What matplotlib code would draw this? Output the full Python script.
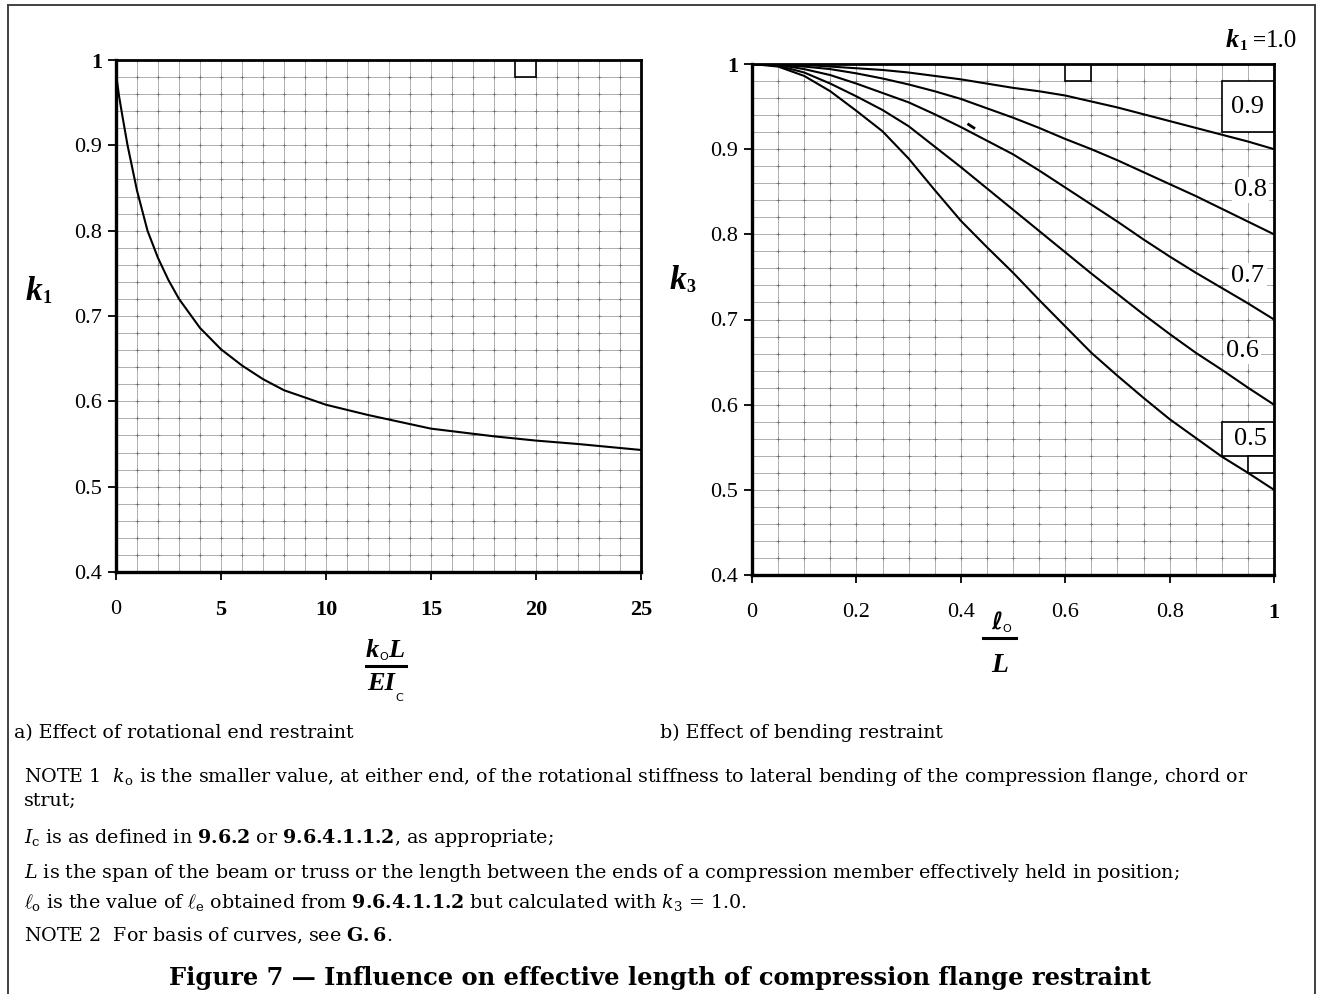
import matplotlib
matplotlib.use("Agg")
import matplotlib.pyplot as plt
from matplotlib.patches import Rectangle
from matplotlib.lines import Line2D
import numpy as np

# a) k1 against k0 L / E Ic
stiffness = [0, 0.05, 0.15, 0.3, 0.55, 1, 1.5, 2, 2.5, 3, 4, 5, 6, 7, 8, 10,
             12, 15, 18, 20, 22, 25]
k1_values = [1.0, 0.975, 0.957, 0.935, 0.9, 0.847, 0.80, 0.768, 0.742, 0.72,
             0.686, 0.661, 0.642, 0.626, 0.613, 0.596, 0.584, 0.568, 0.559,
             0.554, 0.55, 0.543]

# b) k3 against l0 / L, one curve per k1
length_ratio = [0, 0.05, 0.1, 0.15, 0.2, 0.25, 0.3, 0.35, 0.4, 0.45, 0.5,
                0.55, 0.6, 0.65, 0.7, 0.75, 0.8, 0.85, 0.9, 0.95, 1.0]
k3_k1_09 = [1.0, 1.0, 0.999, 0.997, 0.995, 0.993, 0.990, 0.986, 0.982, 0.977,
            0.972, 0.968, 0.963, 0.956, 0.949, 0.941, 0.933, 0.925, 0.917,
            0.909, 0.9]
k3_k1_08 = [1.0, 0.999, 0.997, 0.994, 0.989, 0.983, 0.976, 0.968, 0.959, 0.948,
            0.937, 0.925, 0.912, 0.9, 0.887, 0.873, 0.859, 0.845, 0.83, 0.815,
            0.8]
k3_k1_07 = [1.0, 0.999, 0.994, 0.987, 0.977, 0.966, 0.955, 0.941, 0.926, 0.91,
            0.894, 0.875, 0.855, 0.835, 0.815, 0.794, 0.774, 0.755, 0.737,
            0.719, 0.7]
k3_k1_06 = [1.0, 0.998, 0.99, 0.977, 0.962, 0.946, 0.927, 0.903, 0.879, 0.854,
            0.829, 0.804, 0.779, 0.754, 0.73, 0.706, 0.683, 0.661, 0.641,
            0.62, 0.6]
k3_k1_05 = [1.0, 0.997, 0.986, 0.968, 0.945, 0.921, 0.889, 0.852, 0.816, 0.785,
            0.755, 0.723, 0.692, 0.661, 0.634, 0.608, 0.583, 0.561, 0.539,
            0.52, 0.5]
k1_names = ["0.9", "0.8", "0.7", "0.6", "0.5"]

y_ticks = [0.4, 0.5, 0.6, 0.7, 0.8, 0.9, 1.0]
y_tick_labels = ["0.4", "0.5", "0.6", "0.7", "0.8", "0.9", "1"]
left_x_ticks = [0, 5, 10, 15, 20, 25]
left_x_labels = ["0", "5", "10", "15", "20", "25"]
right_x_ticks = [0, 0.2, 0.4, 0.6, 0.8, 1.0]
right_x_labels = ["0", "0.2", "0.4", "0.6", "0.8", "1"]

plt.rcParams["font.family"] = ["Liberation Serif", "DejaVu Serif"]
plt.rcParams["mathtext.fontset"] = "custom"
plt.rcParams["mathtext.rm"] = "DejaVu Serif"
plt.rcParams["mathtext.it"] = "DejaVu Serif:italic"
plt.rcParams["mathtext.bf"] = "DejaVu Serif:bold"

W, H = 1320, 994
fig = plt.figure(figsize=(W / 100, H / 100), dpi=100)
renderer = fig.canvas.get_renderer()


def axes_px(l, t, r, b):
    return fig.add_axes([l / W, 1 - b / H, (r - l) / W, (b - t) / H])


def graph_paper(ax, xlim, x_step, xticks, xlabels, bold_x, bold_y):
    ax.set_xlim(*xlim)
    ax.set_ylim(0.4, 1.0)
    ax.set_xticks(xticks)
    ax.set_xticklabels(xlabels)
    ax.set_yticks(y_ticks)
    ax.set_yticklabels(y_tick_labels)
    # squared paper: thin rules with darker crossing points
    xs = np.arange(xlim[0], xlim[1] + x_step / 2, x_step)
    ys = np.linspace(0.4, 1.0, 31)
    for gx in xs:
        ax.axvline(gx, color="#b0b0b0", lw=0.7, zorder=0)
    for gy in ys:
        ax.axhline(gy, color="#b0b0b0", lw=0.7, zorder=0)
    gx, gy = np.meshgrid(xs, ys)
    ax.plot(gx.ravel(), gy.ravel(), "+", ms=2.2, mew=0.5, color="#707070",
            zorder=1)
    ax.tick_params(direction="out", length=6, width=1.3, labelsize=16)
    ax.tick_params(axis="x", pad=14)
    ax.tick_params(axis="y", pad=4)
    for lbl in ax.get_xticklabels():
        if lbl.get_text() in bold_x:
            lbl.set_fontweight("bold")
    for lbl in ax.get_yticklabels():
        if lbl.get_text() in bold_y:
            lbl.set_fontweight("bold")
    for side in ["left", "bottom"]:
        ax.spines[side].set_linewidth(2.4)
    for side in ["top", "right"]:
        ax.spines[side].set_linewidth(2.0)


def run(x, y, parts):
    # lay text pieces left to right on one baseline, y in pixels from top
    for txt, size, style, weight, drop, family in parts:
        t = fig.text(x / W, 1 - (y + drop) / H, txt, fontsize=size,
                     style=style, weight=weight, family=family,
                     ha="left", va="baseline")
        x = t.get_window_extent(renderer).x1
    return x


SERIF = ["Liberation Serif", "DejaVu Serif"]
SANS = ["DejaVu Sans"]
ELL = ["DejaVu Sans", "DejaVu Serif"]

# ---- a) rotational end restraint ----
ax1 = axes_px(116, 60, 641, 572)
graph_paper(ax1, (0, 25), 1, left_x_ticks, left_x_labels,
            bold_x=["5", "10", "15", "20", "25"], bold_y=["1"])
ax1.plot(stiffness, k1_values, color="black", lw=1.5, zorder=3)
ax1.add_patch(Rectangle((19, 0.98), 1, 0.02, fc="white", ec="black",
                        lw=1.2, zorder=2))

# ---- b) bending restraint ----
ax2 = axes_px(752, 64, 1274, 575)
graph_paper(ax2, (0, 1.0), 0.05, right_x_ticks, right_x_labels,
            bold_x=["1"], bold_y=["1"])
for curve in [k3_k1_09, k3_k1_08, k3_k1_07, k3_k1_06, k3_k1_05]:
    ax2.plot(length_ratio, curve, color="black", lw=1.5, zorder=3)

box_style = dict(fc="white", ec="black", lw=1.2, zorder=2)
ax2.add_patch(Rectangle((0.6, 0.98), 0.05, 0.02, **box_style))
ax2.add_patch(Rectangle((0.9, 0.92), 0.1, 0.06, **box_style))
ax2.add_patch(Rectangle((0.9, 0.54), 0.1, 0.04, **box_style))
ax2.add_patch(Rectangle((0.95, 0.52), 0.05, 0.02, **box_style))

label_pos = [(0.95, 0.950), (0.955, 0.852), (0.95, 0.751), (0.94, 0.663),
             (0.955, 0.560)]
for name, (lx, ly) in zip(k1_names, label_pos):
    ax2.text(lx, ly, name, fontsize=19, ha="center", va="center", zorder=4,
             bbox=dict(fc="white", ec="none", pad=1.5))
ax2.plot([0.415, 0.425], [0.929, 0.925], color="black", lw=2.0, zorder=3)

# axis titles
run(26, 300, [("k", 24, "italic", "bold", 0, SERIF),
              ("1", 13, "normal", "bold", 3, SERIF)])
run(670, 289, [("k", 24, "italic", "bold", 0, SERIF),
               ("3", 13, "normal", "bold", 3, SERIF)])
run(1226, 47, [("k", 19, "italic", "bold", 0, SERIF),
               ("1", 11, "normal", "bold", 3, SERIF),
               (" =", 17, "normal", "bold", 0, SERIF),
               ("1.0", 18, "normal", "normal", 0, SERIF)])

# x axis fractions
run(366, 657, [("k", 19, "italic", "bold", 0, SERIF),
               ("O", 8, "normal", "normal", 3, SANS),
               ("L", 19, "italic", "bold", 0, SERIF)])
fig.add_artist(Line2D([366 / W, 406 / W], [1 - 666 / H, 1 - 666 / H],
                      color="black", lw=2.2))
run(367, 690, [("EI", 19, "italic", "bold", 0, SERIF),
               ("C", 8, "normal", "normal", 11, SANS)])

run(991, 630, [("\u2113", 17, "italic", "bold", 0, ELL),
               ("O", 8, "normal", "normal", 2, SANS)])
fig.add_artist(Line2D([983 / W, 1016 / W], [1 - 638 / H, 1 - 638 / H],
                      color="black", lw=2.2))
run(991, 672, [("L", 20, "italic", "bold", 0, SERIF)])

# captions and notes
note = dict(family="DejaVu Serif", fontsize=13.7, va="baseline", ha="left")
fig.text(14 / W, 1 - 738 / H, "a) Effect of rotational end restraint", **note)
fig.text(660 / W, 1 - 738 / H, "b) Effect of bending restraint", **note)
fig.text(24 / W, 1 - 782 / H,
         r"NOTE 1  $k_\mathrm{o}$ is the smaller value, at either end, of the "
         r"rotational stiffness to lateral bending of the compression flange, "
         r"chord or", **note)
fig.text(24 / W, 1 - 806 / H, "strut;", **note)
fig.text(24 / W, 1 - 843 / H,
         r"$I_\mathrm{c}$ is as defined in $\mathbf{9.6.2}$ or "
         r"$\mathbf{9.6.4.1.1.2}$, as appropriate;", **note)
fig.text(24 / W, 1 - 878 / H,
         r"$L$ is the span of the beam or truss or the length between the ends "
         r"of a compression member effectively held in position;", **note)
fig.text(24 / W, 1 - 908 / H,
         r"$\ell_\mathrm{o}$ is the value of $\ell_\mathrm{e}$ obtained from "
         r"$\mathbf{9.6.4.1.1.2}$ but calculated with $k_3$ = 1.0.", **note)
fig.text(24 / W, 1 - 941 / H,
         r"NOTE 2  For basis of curves, see $\mathbf{G.6}$.", **note)
fig.text(660 / W, 1 - 985 / H,
         "Figure 7 \u2014 Influence on effective length of compression flange "
         "restraint", family="DejaVu Serif", fontsize=17.4, weight="bold",
         ha="center", va="baseline")

# page frame
frame = dict(color="#404040", lw=1.4)
fig.add_artist(Line2D([7.5 / W, 7.5 / W], [0, 1 - 5 / H], **frame))
fig.add_artist(Line2D([7.5 / W, 1315 / W], [1 - 5 / H, 1 - 5 / H], **frame))
fig.add_artist(Line2D([1315 / W, 1315 / W], [0, 1 - 5 / H], **frame))

fig.savefig("out.png", dpi=100, facecolor="white")
